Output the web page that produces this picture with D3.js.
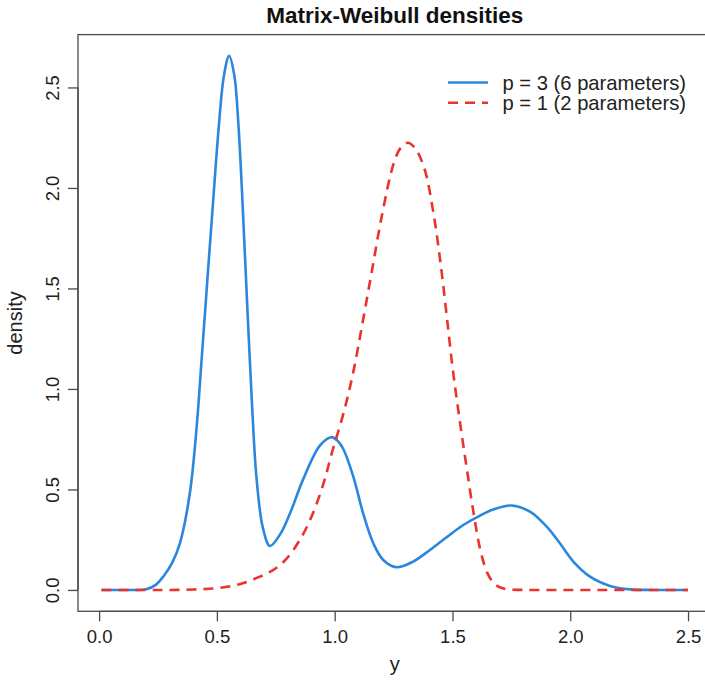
<!DOCTYPE html>
<html>
<head>
<meta charset="utf-8">
<script src="https://cdn.jsdelivr.net/npm/d3@7"></script>
<style>
  html, body { margin: 0; padding: 0; background: #fff; }
  svg { display: block; font-family: "Liberation Sans", Arial, Helvetica, sans-serif; }
</style>
</head>
<body>
<svg id="chart" width="705" height="680"></svg>
<script>
// Matrix-Weibull density with p = 3 (6 parameters)
const yP3 = [0.01, 0.1, 0.15, 0.2, 0.24, 0.272, 0.31, 0.343, 0.385, 0.414, 0.435, 0.46, 0.485, 0.507, 0.53,
  0.552, 0.574, 0.59, 0.605, 0.62, 0.635, 0.65, 0.668, 0.695, 0.725, 0.767, 0.81, 0.866, 0.937, 0.985,
  1.01, 1.037, 1.079, 1.121, 1.164, 1.206, 1.263, 1.333, 1.404, 1.475, 1.546, 1.617, 1.673, 1.751, 1.829,
  1.9, 1.956, 2.013, 2.084, 2.169, 2.253, 2.35, 2.42, 2.5];
const densP3 = [0, 0, 0, 0.003, 0.025, 0.066, 0.135, 0.232, 0.48, 0.81, 1.144, 1.55, 1.95, 2.29, 2.56,
  2.657, 2.56, 2.34, 2.02, 1.64, 1.26, 0.9, 0.56, 0.31, 0.219, 0.274, 0.38, 0.55, 0.718, 0.76,
  0.745, 0.7, 0.564, 0.38, 0.232, 0.149, 0.113, 0.141, 0.199, 0.262, 0.323, 0.37, 0.4, 0.42, 0.39,
  0.315, 0.232, 0.141, 0.066, 0.02, 0.003, 0, 0, 0];

// Weibull density with p = 1 (2 parameters)
const yP1 = [0.01, 0.2, 0.3, 0.4, 0.5, 0.6, 0.68, 0.74, 0.79, 0.85, 0.9, 0.95, 0.99, 1.04, 1.08, 1.12,
  1.16, 1.2, 1.25, 1.28, 1.31, 1.34, 1.38, 1.42, 1.45, 1.475, 1.5, 1.53, 1.56, 1.59, 1.62, 1.65, 1.68,
  1.72, 1.8, 1.9, 2.0, 2.5];
const densP1 = [0, 0, 0, 0.002, 0.009, 0.03, 0.065, 0.1, 0.148, 0.245, 0.36, 0.52, 0.69, 0.89, 1.09, 1.34,
  1.6, 1.86, 2.12, 2.2, 2.225, 2.2, 2.1, 1.87, 1.62, 1.37, 1.11, 0.85, 0.61, 0.38, 0.19, 0.08, 0.028,
  0.006, 0, 0, 0, 0];

const xTicks = [0, 0.5, 1, 1.5, 2, 2.5];
const yTicks = [0, 0.5, 1, 1.5, 2, 2.5];
const legendLabels = ["p = 3 (6 parameters)", "p = 1 (2 parameters)"];

const blue = "#2b87dd";
const red = "#e8332e";
const axisColor = "#4a4a4a";

const svg = d3.select("#chart");

// plot region (data range padded by 4% on each side)
const x = d3.scaleLinear().domain([-0.0896, 2.5996]).range([78, 711.5]);
const y = d3.scaleLinear().domain([-0.1063, 2.763]).range([611.3, 34.6]);

// frame
svg.append("rect")
  .attr("x", x.range()[0]).attr("y", y.range()[1])
  .attr("width", x.range()[1] - x.range()[0])
  .attr("height", y.range()[0] - y.range()[1])
  .attr("fill", "none").attr("stroke", axisColor).attr("stroke-width", 1.3);

// x axis
const xAxis = d3.axisBottom(x).tickValues(xTicks).tickFormat(d3.format(".1f"))
  .tickSize(10).tickPadding(9);
const gx = svg.append("g").attr("transform", `translate(0,${y.range()[0]})`).call(xAxis);
gx.select(".domain").attr("d", `M${x(0)},0H${x(2.5)}`).attr("stroke", axisColor).attr("stroke-width", 1.3);
gx.selectAll(".tick line").attr("stroke", axisColor).attr("stroke-width", 1.3);
gx.selectAll(".tick text").attr("font-size", 18.5).attr("fill", "#222")
  .attr("font-family", "Liberation Sans, Arial, sans-serif");

// y axis, labels parallel to the axis
const yAxis = d3.axisLeft(y).tickValues(yTicks).tickFormat(d3.format(".1f"))
  .tickSize(10).tickPadding(0);
const gy = svg.append("g").attr("transform", `translate(${x.range()[0]},0)`).call(yAxis);
gy.select(".domain").attr("d", `M0,${y(0)}V${y(2.5)}`).attr("stroke", axisColor).attr("stroke-width", 1.3);
gy.selectAll(".tick line").attr("stroke", axisColor).attr("stroke-width", 1.3);
gy.selectAll(".tick text")
  .attr("font-size", 18.5).attr("fill", "#222")
  .attr("font-family", "Liberation Sans, Arial, sans-serif")
  .attr("x", null).attr("dy", null)
  .attr("text-anchor", "middle")
  .attr("dominant-baseline", "central")
  .attr("transform", "translate(-26,0) rotate(-90)");

// axis titles
svg.append("text").attr("x", (x.range()[0] + x.range()[1]) / 2).attr("y", 671)
  .attr("text-anchor", "middle").attr("font-size", 20).attr("fill", "#222").text("y");
svg.append("text")
  .attr("transform", `translate(22,${(y.range()[0] + y.range()[1]) / 2}) rotate(-90)`)
  .attr("text-anchor", "middle").attr("font-size", 20).attr("fill", "#222").text("density");

// title
svg.append("text").attr("x", (x.range()[0] + x.range()[1]) / 2).attr("y", 23)
  .attr("text-anchor", "middle").attr("font-size", 22.5).attr("font-weight", "bold")
  .attr("fill", "#111").text("Matrix-Weibull densities");

// curves
const line = d3.line().x(d => x(d[0])).y(d => y(d[1])).curve(d3.curveCatmullRom.alpha(0.5));

svg.append("path")
  .datum(d3.zip(yP3, densP3))
  .attr("d", line)
  .attr("fill", "none").attr("stroke", blue).attr("stroke-width", 2.6)
  .attr("stroke-linejoin", "round");

svg.append("path")
  .datum(d3.zip(yP1, densP1))
  .attr("d", line)
  .attr("fill", "none").attr("stroke", red).attr("stroke-width", 2.6)
  .attr("stroke-dasharray", "10,7");

// legend
const legend = svg.append("g");
const legendRows = [
  { label: legendLabels[0], color: blue, dash: null, cy: 82.5 },
  { label: legendLabels[1], color: red, dash: "10,7", cy: 102.7 }
];
legendRows.forEach(r => {
  legend.append("line")
    .attr("x1", 448).attr("x2", 488).attr("y1", r.cy).attr("y2", r.cy)
    .attr("stroke", r.color).attr("stroke-width", 2.6)
    .attr("stroke-dasharray", r.dash);
  legend.append("text")
    .attr("x", 502.5).attr("y", r.cy + 7).attr("font-size", 20.2)
    .attr("fill", "#222").text(r.label);
});
</script>
</body>
</html>
